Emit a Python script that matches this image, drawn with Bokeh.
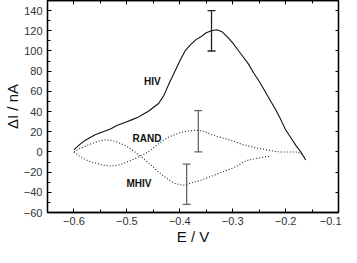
from bokeh.plotting import figure
from bokeh.models import (LinearAxis, SingleIntervalTicker, Whisker, TeeHead,
                          ColumnDataSource, Label)
from bokeh.embed import file_html
from bokeh.resources import INLINE

# ---- data ----
hiv_x = [-0.60, -0.59, -0.58, -0.57, -0.56, -0.55, -0.54, -0.53, -0.52, -0.51,
         -0.50, -0.49, -0.48, -0.47, -0.46, -0.45, -0.44, -0.43, -0.42, -0.41,
         -0.40, -0.39, -0.38, -0.37, -0.36, -0.35, -0.34, -0.33, -0.32, -0.31,
         -0.30, -0.29, -0.28, -0.27, -0.26, -0.25, -0.24, -0.23, -0.22, -0.21,
         -0.20, -0.19, -0.18, -0.17, -0.162]
hiv_y = [2, 7, 11, 14, 17, 19, 21, 23, 26, 28,
         30, 32, 34, 37, 40, 44, 48, 56, 68, 79,
         90, 100, 106, 111, 114, 118, 120, 121, 119, 114,
         108, 101, 94, 87, 78, 70, 61, 52, 43, 33,
         22, 14, 6, -1, -8]

rand_x = [-0.60, -0.59, -0.58, -0.57, -0.56, -0.55, -0.54, -0.53, -0.52, -0.51,
          -0.50, -0.49, -0.48, -0.47, -0.46, -0.45, -0.44, -0.43, -0.42, -0.41,
          -0.40, -0.39, -0.38, -0.37, -0.36, -0.35, -0.34, -0.33, -0.32, -0.31,
          -0.30, -0.29, -0.28, -0.27, -0.26, -0.25, -0.24, -0.23, -0.22, -0.21,
          -0.20, -0.19, -0.18, -0.17, -0.165]
rand_y = [0, -4, -7, -9.5, -11, -12.5, -13.5, -14, -13.5, -12,
          -10, -8, -5.5, -3, 0, 4, 8, 12, 15, 17,
          19, 20, 21, 21.5, 21, 19.5, 17, 15.5, 14, 12.5,
          11, 9, 7, 6, 4.5, 3.5, 2.5, 1.5, 0.5, 0,
          0, 0, 0, -2, -5]

mhiv_x = [-0.60, -0.59, -0.58, -0.57, -0.56, -0.55, -0.54, -0.53, -0.52, -0.51,
          -0.50, -0.49, -0.48, -0.47, -0.46, -0.45, -0.44, -0.43, -0.42, -0.41,
          -0.40, -0.39, -0.38, -0.37, -0.36, -0.35, -0.34, -0.33, -0.32, -0.31,
          -0.30, -0.29, -0.28, -0.27, -0.26, -0.25, -0.24, -0.23]
mhiv_y = [0, 3, 5.5, 7.5, 9.5, 11, 12, 11.5, 10, 8,
          5.5, 2, -2, -6, -10.5, -15, -20, -24, -28, -31,
          -32.5, -33, -31, -29.5, -28, -26, -24, -22, -20, -18,
          -16, -13.5, -10, -8, -7, -6, -5, -4.5]

err_x = [-0.34, -0.365, -0.387]
err_lo = [100, 0, -52]
err_hi = [140, 41, -12]
err_color = ["#222222", "#666666", "#666666"]

labels = ["HIV", "RAND", "MHIV"]
label_x = [-0.452, -0.462, -0.477]
label_y = [70, 13.6, -31]

# ---- figure ----
p = figure(width=341, height=247, x_range=(-0.65, -0.1), y_range=(-60, 150),
           output_backend="svg", toolbar_location=None,
           min_border_left=0, min_border_right=3, min_border_top=0,
           min_border_bottom=0)
p.background_fill_color = "white"
p.border_fill_color = "white"
p.grid.visible = False
p.outline_line_color = "black"
p.outline_line_width = 1.3

FONT = "Liberation Sans"
TXT = "#333333"

xt = SingleIntervalTicker(interval=0.1, num_minor_ticks=2)
yt = SingleIntervalTicker(interval=20, num_minor_ticks=2)

bottom = p.xaxis[0]
left = p.yaxis[0]
bottom.ticker = xt
left.ticker = yt

top = LinearAxis(ticker=xt, major_label_text_color=None,
                 major_label_text_font_size="1px", major_label_standoff=0)
right = LinearAxis(ticker=yt, major_label_text_color=None,
                   major_label_text_font_size="1px", major_label_standoff=0,
                   minor_tick_in=0, minor_tick_out=0)
p.add_layout(top, "above")
p.add_layout(right, "right")

for ax in [bottom, left, top, right]:
    ax.axis_line_color = "black"
    ax.axis_line_width = 1.3
    ax.major_tick_in = 4
    ax.major_tick_out = 0
    ax.major_tick_line_color = "black"
    ax.minor_tick_line_color = "black"
for ax in [bottom, left, top]:
    ax.minor_tick_in = 3
    ax.minor_tick_out = 0
right.major_tick_in = 3

for ax in [bottom, left]:
    ax.major_label_text_font = FONT
    ax.major_label_text_font_size = "11px"
    ax.major_label_text_color = TXT
    ax.axis_label_text_font = FONT
    ax.axis_label_text_font_style = "normal"
    ax.axis_label_text_color = "#111111"
    ax.axis_label_text_font_size = "15px"

bottom.axis_label = "E / V"
bottom.major_label_standoff = 4
bottom.axis_label_standoff = 0
left.axis_label = "ΔI / nA"
left.major_label_standoff = 5
left.axis_label_standoff = 0

p.line(hiv_x, hiv_y, line_color="#111111", line_width=1.1)
p.line(rand_x, rand_y, line_color="#222222", line_width=1.1, line_dash="1 2")
p.line(mhiv_x, mhiv_y, line_color="#222222", line_width=1.1, line_dash="1 2")

for i in range(len(err_x)):
    src = ColumnDataSource(dict(x=[err_x[i]], lo=[err_lo[i]], hi=[err_hi[i]]))
    c = err_color[i]
    w = Whisker(source=src, base="x", lower="lo", upper="hi",
                line_color=c, line_width=1.3,
                upper_head=TeeHead(size=8, line_color=c, line_width=1.3),
                lower_head=TeeHead(size=8, line_color=c, line_width=1.3))
    p.add_layout(w)

for t, lx, ly in zip(labels, label_x, label_y):
    p.add_layout(Label(x=lx, y=ly, text=t, text_font=FONT,
                       text_font_size="10px", text_font_style="bold",
                       text_color="#111111", text_align="center",
                       text_baseline="middle"))

open("out.html", "w").write(file_html(p, INLINE))
